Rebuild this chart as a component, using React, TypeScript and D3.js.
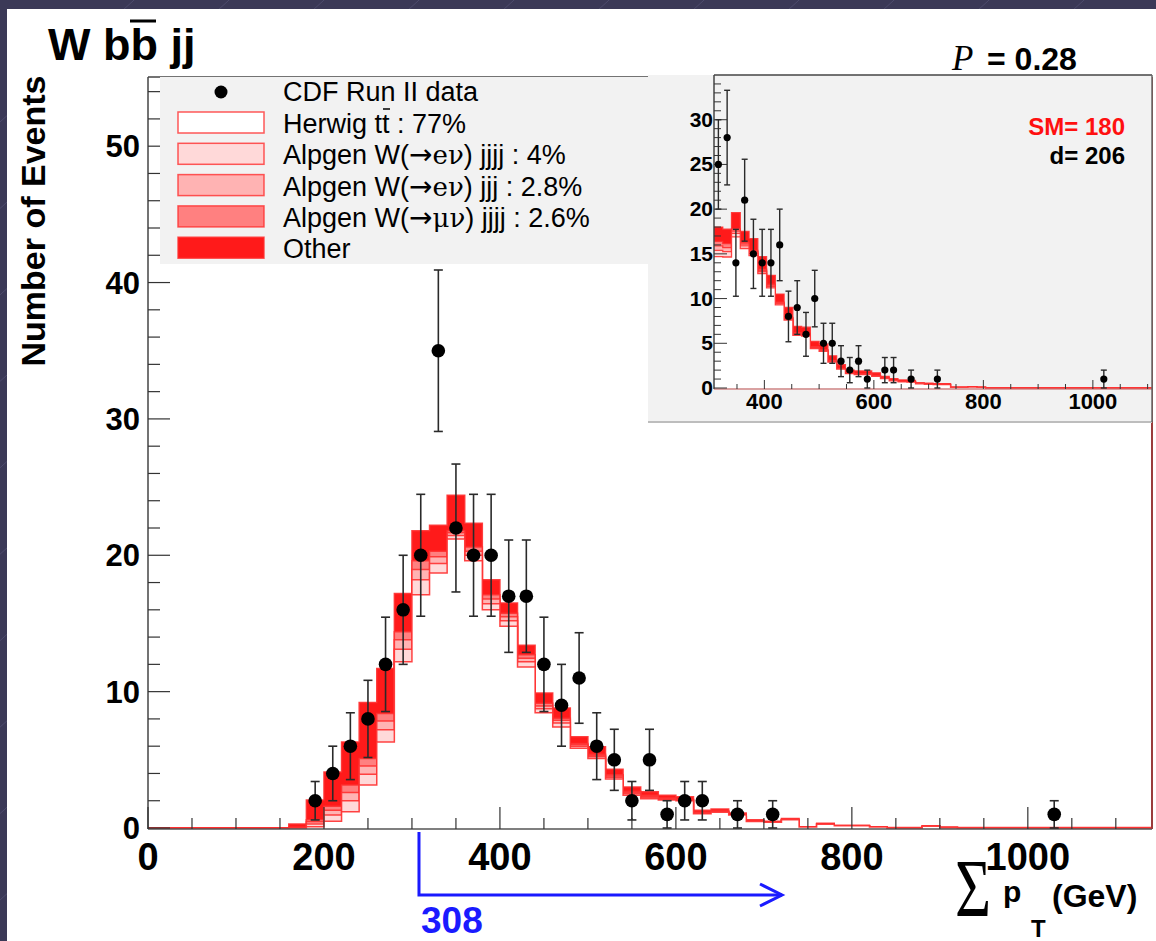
import React from "react";
import * as d3 from "d3";

// ---------------- main histogram: 20 GeV bins, 0..1140 ----------------
const MAIN_START = 0;
const MAIN_WIDTH = 20;
const mainTtbar = [0, 0, 0, 0, 0, 0, 0, 0, 0, 0.1, 0.5, 1.2, 3.15, 6.3, 12.2, 17.1, 18.7, 21.2, 19.6, 16.0, 14.8, 11.8, 8.45, 7.4, 5.85, 5.1, 3.6, 2.4, 2.15, 2.05, 2.0, 1.05, 1.15, 0.95, 0.48, 0.42, 0.6, 0.07, 0.28, 0.16, 0.16, 0.08, 0.02, 0.02, 0.12, 0.04, 0.02, 0.02, 0.02, 0.02, 0.02, 0.02, 0.02, 0.02, 0.02, 0.02, 0.02];
const mainWenu4 = [0, 0, 0, 0, 0, 0, 0, 0, 0.02, 0.2, 0.45, 0.8, 0.8, 0.9, 0.9, 1.1, 0.7, 0.25, 0.4, 0.45, 0.4, 0.4, 0.3, 0.3, 0.15, 0.12, 0.12, 0.12, 0.1, 0.06, 0.04, 0.04, 0.04, 0.02, 0.02, 0.01, 0.01, 0.01, 0.01, 0.01, 0.01, 0, 0, 0, 0.01, 0, 0, 0, 0, 0, 0, 0, 0, 0, 0, 0, 0];
const mainWenu3 = [0, 0, 0, 0, 0, 0, 0, 0, 0.02, 0.15, 0.35, 0.6, 0.6, 0.65, 0.7, 0.75, 0.5, 0.2, 0.3, 0.35, 0.3, 0.25, 0.2, 0.2, 0.1, 0.1, 0.1, 0.1, 0.08, 0.05, 0.03, 0.03, 0.03, 0.02, 0.01, 0.01, 0.01, 0, 0.01, 0, 0, 0, 0, 0, 0, 0, 0, 0, 0, 0, 0, 0, 0, 0, 0, 0, 0];
const mainWmunu4 = [0, 0, 0, 0, 0, 0, 0, 0, 0.01, 0.15, 0.3, 0.55, 0.55, 0.55, 0.6, 0.65, 0.4, 0.15, 0.3, 0.3, 0.25, 0.25, 0.2, 0.15, 0.1, 0.08, 0.08, 0.08, 0.07, 0.04, 0.03, 0.03, 0.03, 0.01, 0.01, 0.01, 0.01, 0, 0, 0, 0, 0, 0, 0, 0, 0, 0, 0, 0, 0, 0, 0, 0, 0, 0, 0, 0];
const mainOther = [0, 0, 0, 0, 0, 0, 0, 0, 0.25, 1.45, 2.5, 3.15, 4.1, 3.3, 2.8, 2.2, 1.9, 2.6, 1.75, 1.1, 0.75, 0.7, 0.75, 0.75, 0.5, 0.55, 0.4, 0.3, 0.25, 0.2, 0.2, 0.15, 0.15, 0.1, 0.08, 0.05, 0.07, 0.02, 0.05, 0.03, 0.03, 0.02, 0.01, 0.01, 0.02, 0.01, 0.01, 0.01, 0.01, 0.01, 0.01, 0.01, 0.01, 0.01, 0.01, 0.01, 0.01];

const mainDataX = [190, 210, 230, 250, 270, 290, 310, 330, 350, 370, 390, 410, 430, 450, 470, 490, 510, 530, 550, 570, 590, 610, 630, 670, 710, 1030];
const mainDataN = [2, 4, 6, 8, 12, 16, 20, 35, 22, 20, 20, 17, 17, 12, 9, 11, 6, 5, 2, 5, 1, 2, 2, 1, 1, 1];
const mainDataErr = [1.41, 2, 2.45, 2.83, 3.46, 4, 4.47, 5.92, 4.69, 4.47, 4.47, 4.12, 4.12, 3.46, 3, 3.32, 2.45, 2.24, 1.41, 2.24, 1, 1.41, 1.41, 1, 1, 1];

const mainXTicks = [0, 200, 400, 600, 800, 1000];
const mainYTicks = [0, 10, 20, 30, 40, 50];

// ---------------- inset: 16 GeV bins, 308..1108 ----------------
const IN_START = 308;
const IN_WIDTH = 16;
const inTtbar = [14.7, 14.65, 16.9, 15.6, 14.8, 12.8, 11.2, 9.3, 7.6, 5.9, 5.8, 4.4, 4.1, 2.9, 2.1, 1.6, 1.5, 1.5, 1.3, 1.05, 0.8, 0.7, 0.65, 0.47, 0.42, 0.37, 0.37, 0.07, 0.07, 0.11, 0.07, 0.04, 0.04, 0.04, 0.04, 0.04, 0.04, 0.04, 0.04, 0.04, 0.04, 0.04, 0.04, 0.04, 0.04, 0.04, 0.04, 0.04, 0.04, 0.04];
const inWenu4 = [0.7, 0.6, 0.4, 0.3, 0.25, 0.2, 0.15, 0.1, 0.1, 0.1, 0.1, 0.08, 0.08, 0.08, 0.04, 0.04, 0.04, 0.04, 0.04, 0.02, 0.02, 0.02, 0.02, 0.01, 0.01, 0.01, 0.01, 0.01, 0.01, 0.01, 0.01, 0, 0, 0, 0, 0, 0, 0, 0, 0, 0, 0, 0, 0, 0, 0, 0, 0, 0, 0];
const inWenu3 = [0.5, 0.45, 0.25, 0.2, 0.2, 0.15, 0.15, 0.1, 0.1, 0.1, 0.1, 0.06, 0.06, 0.06, 0.03, 0.03, 0.03, 0.03, 0.03, 0.02, 0.02, 0.02, 0.02, 0.01, 0.01, 0.01, 0.01, 0, 0, 0, 0, 0, 0, 0, 0, 0, 0, 0, 0, 0, 0, 0, 0, 0, 0, 0, 0, 0, 0, 0];
const inWmunu4 = [0.5, 0.45, 0.25, 0.2, 0.15, 0.15, 0.1, 0.1, 0.1, 0.1, 0.1, 0.06, 0.06, 0.06, 0.03, 0.03, 0.03, 0.03, 0.03, 0.01, 0.01, 0.01, 0.01, 0.01, 0.01, 0.01, 0.01, 0, 0, 0, 0, 0, 0, 0, 0, 0, 0, 0, 0, 0, 0, 0, 0, 0, 0, 0, 0, 0, 0, 0];
const inOther = [1.6, 1.6, 1.8, 1.2, 1.3, 1.4, 1.0, 0.9, 1.1, 0.7, 0.7, 0.6, 0.6, 0.5, 0.4, 0.3, 0.3, 0.3, 0.3, 0.2, 0.2, 0.15, 0.15, 0.1, 0.1, 0.1, 0.1, 0.02, 0.02, 0.03, 0.02, 0.01, 0.01, 0.01, 0.01, 0.01, 0.01, 0.01, 0.01, 0.01, 0.01, 0.01, 0.01, 0.01, 0.01, 0.01, 0.01, 0.01, 0.01, 0.01];

const inDataX = [316, 332, 348, 364, 380, 396, 412, 428, 444, 460, 476, 492, 508, 524, 540, 556, 572, 588, 620, 636, 668, 716, 1020];
const inDataN = [25, 28, 14, 21, 15, 14, 14, 16, 8, 9, 6, 10, 5, 5, 3, 2, 3, 1, 2, 2, 1, 1, 1];
const inDataErr = [5, 5.29, 3.74, 4.58, 3.87, 3.74, 3.74, 4, 2.83, 3, 2.45, 3.16, 2.24, 2.24, 1.73, 1.41, 1.73, 1, 1.41, 1.41, 1, 1, 1];

const inXTicks = [400, 600, 800, 1000];
const inYTicks = [0, 5, 10, 15, 20, 25, 30];

// legend: [before arrow, decay products, after]
const legendParts: [string, string, string][] = [
  ["Herwig tt : 77%", "", ""],
  ["Alpgen W(", "e\u03bd", ") jjjj : 4%"],
  ["Alpgen W(", "e\u03bd", ") jjj : 2.8%"],
  ["Alpgen W(", "\u03bc\u03bd", ") jjjj : 2.6%"],
  ["Other", "", ""],
];

const LAYER_FILLS = ["#ffffff", "#ffd9d9", "#ffb3b3", "#ff8080", "#ff1a1a"];
const OUTLINE = "#ff3030";
const FONT = "'Liberation Sans', Arial, Helvetica, sans-serif";

function cumulative(layers: number[][]): number[][] {
  const out: number[][] = [];
  let acc = layers[0].map(() => 0);
  for (const l of layers) {
    acc = acc.map((a, i) => a + l[i]);
    out.push(acc);
  }
  return out;
}

function stepPoints(start: number, width: number, vals: number[]): [number, number][] {
  const pts: [number, number][] = vals.map((v, i) => [start + i * width, v]);
  pts.push([start + vals.length * width, vals[vals.length - 1]]);
  return pts;
}

function Stack({ x, y, start, width, layers, sw }: any) {
  const cum = cumulative(layers);
  const area = d3
    .area<[number, number]>()
    .x((d) => x(d[0]))
    .y0(y(0))
    .y1((d) => y(d[1]))
    .curve(d3.curveStepAfter);
  const line = d3
    .line<[number, number]>()
    .x((d) => x(d[0]))
    .y((d) => y(d[1]))
    .curve(d3.curveStepAfter);
  const order = cum.map((_, k) => k).reverse();
  return (
    <g>
      {order.map((k) => {
        const pts = stepPoints(start, width, cum[k]);
        return (
          <g key={k}>
            <path d={area(pts) || ""} fill={LAYER_FILLS[k]} />
            <path d={line(pts) || ""} fill="none" stroke={OUTLINE} strokeWidth={sw} strokeOpacity={0.9} />
          </g>
        );
      })}
    </g>
  );
}

function DataPoints({ x, y, xs, ns, errs, r, cap, sw }: any) {
  return (
    <g>
      {xs.map((v: number, i: number) => {
        const cx = x(v);
        const lo = y(Math.max(0, ns[i] - errs[i]));
        const hi = y(ns[i] + errs[i]);
        return (
          <g key={i}>
            <line x1={cx} x2={cx} y1={lo} y2={hi} stroke="#2a2a2a" strokeWidth={sw} />
            <line x1={cx - cap} x2={cx + cap} y1={lo} y2={lo} stroke="#2a2a2a" strokeWidth={sw} />
            <line x1={cx - cap} x2={cx + cap} y1={hi} y2={hi} stroke="#2a2a2a" strokeWidth={sw} />
            <circle cx={cx} cy={y(ns[i])} r={r} fill="#000" />
          </g>
        );
      })}
    </g>
  );
}

export default function App() {
  // main plot scales
  const x = d3.scaleLinear().domain([0, 1140]).range([148, 1151]);
  const y = d3.scaleLinear().domain([0, 55]).range([828, 78]);
  // inset scales
  const xi = d3.scaleLinear().domain([308, 1108]).range([714, 1152]);
  const yi = d3.scaleLinear().domain([0, 35]).range([388, 75]);

  const xMinor = d3.range(0, 1141, 50).filter((v) => v % 200 !== 0);
  const yMinor = d3.range(0, 55.1, 2).filter((v) => v % 10 !== 0);
  const xiMinor = d3.range(350, 1108, 50).filter((v) => v % 200 !== 0);
  const yiMinor = d3.range(0, 35.1, 1).filter((v) => v % 5 !== 0);

  const mainLayers = [mainTtbar, mainWenu4, mainWenu3, mainWmunu4, mainOther];
  const inLayers = [inTtbar, inWenu4, inWenu3, inWmunu4, inOther];

  const bgLines = d3.range(-900, 1300, 95);

  return (
    <svg width={1156} height={941} style={{ position: "absolute", left: 0, top: 0, display: "block" }} fontFamily={FONT}>
      <defs>
        <clipPath id="mainClip">
          <rect x={148} y={77} width={1004} height={752} />
        </clipPath>
        <clipPath id="inClip">
          <rect x={714} y={75} width={438} height={314} />
        </clipPath>
      </defs>
      {/* slide background */}
      <rect x={0} y={0} width={1156} height={941} fill="#3b3957" />
      {bgLines.map((b, i) => (
        <line key={i} x1={b} y1={941} x2={b + 1100} y2={-60} stroke="#5d5b80" strokeWidth={1} strokeOpacity={0.55} />
      ))}
      <rect x={7} y={9} width={1149} height={932} fill="#ffffff" />

      {/* title */}
      <text x={48} y={60} fontSize={45} fontWeight="bold" fill="#000">
        W bb jj
      </text>
      <line x1={130} x2={156} y1={21} y2={21} stroke="#000" strokeWidth={3} />

      {/* P value */}
      <text x={952} y={70} fontSize={35} fontStyle="italic" fontFamily="'Liberation Serif', 'Times New Roman', serif" fill="#000">
        P
      </text>
      <text x={987} y={70} fontSize={32} fontWeight="bold" fill="#000">
        = 0.28
      </text>

      {/* y axis title */}
      <text transform="translate(45,221) rotate(-90)" textAnchor="middle" fontSize={34} fontWeight="bold" fill="#000">
        Number of Events
      </text>

      {/* main stack */}
      <g clipPath="url(#mainClip)">
        <Stack x={x} y={y} start={MAIN_START} width={MAIN_WIDTH} layers={mainLayers} sw={1.5} />
      </g>

      {/* main axes */}
      <line x1={148} x2={1152} y1={77} y2={77} stroke="#444" strokeWidth={1.5} />
      <line x1={148} x2={148} y1={77} y2={829} stroke="#444" strokeWidth={1.5} />
      <line x1={148} x2={1152} y1={829} y2={829} stroke="#555" strokeWidth={1.5} />
      <line x1={1152} x2={1152} y1={77} y2={829} stroke="#9a3c3c" strokeWidth={2} />
      {mainXTicks.map((t) => (
        <g key={t}>
          <line x1={x(t)} x2={x(t)} y1={829} y2={807} stroke="#333" strokeWidth={1.2} />
          <text x={x(t)} y={870} textAnchor="middle" fontSize={38} fontWeight="bold" fill="#000">
            {t}
          </text>
        </g>
      ))}
      {xMinor.map((t) => (
        <line key={t} x1={x(t)} x2={x(t)} y1={829} y2={818} stroke="#333" strokeWidth={1.2} />
      ))}
      {mainYTicks.map((t) => (
        <g key={t}>
          <line x1={148} x2={170} y1={y(t)} y2={y(t)} stroke="#333" strokeWidth={1.2} />
          <text x={140} y={y(t) + 11} textAnchor="end" fontSize={31} fontWeight="bold" fill="#000">
            {t}
          </text>
        </g>
      ))}
      {yMinor.map((t) => (
        <line key={t} x1={148} x2={160} y1={y(t)} y2={y(t)} stroke="#333" strokeWidth={1.2} />
      ))}

      {/* main data */}
      <DataPoints x={x} y={y} xs={mainDataX} ns={mainDataN} errs={mainDataErr} r={6.8} cap={4.5} sw={1.6} />

      {/* legend */}
      <rect x={160} y={77} width={500} height={187} fill="#f2f2f2" />
      <circle cx={221} cy={92} r={6.5} fill="#000" />
      <text x={283} y={101} fontSize={27} fill="#000">
        CDF Run II data
      </text>
      {legendParts.map((p, i) => (
        <g key={i}>
          <rect x={178} y={112 + i * 31.3} width={86} height={21} fill={LAYER_FILLS[i]} stroke={OUTLINE} strokeWidth={1.5} strokeOpacity={0.8} />
          <text x={283} y={133 + i * 31.3} fontSize={27} fill="#000">
            {p[1] === "" ? (
              p[0]
            ) : (
              <>
                {p[0]}
                <tspan fontFamily="'DejaVu Sans', sans-serif" fontSize={28}>{"\u2192"}</tspan>
                <tspan fontFamily="'DejaVu Serif', 'Liberation Serif', serif" fontSize={26}>{p[1]}</tspan>
                {p[2]}
              </>
            )}
          </text>
        </g>
      ))}
      <line x1={383} x2={390} y1={109} y2={109} stroke="#000" strokeWidth={1.5} />

      {/* inset pad */}
      <rect x={648} y={75} width={504} height={347} fill="#f2f2f2" />
      <line x1={648} x2={1152} y1={422} y2={422} stroke="#bdbdbd" strokeWidth={2} />
      <g clipPath="url(#inClip)">
        <Stack x={xi} y={yi} start={IN_START} width={IN_WIDTH} layers={inLayers} sw={1.3} />
      </g>
      <line x1={714} x2={1152} y1={75} y2={75} stroke="#444" strokeWidth={1.5} />
      <line x1={714} x2={714} y1={75} y2={389} stroke="#444" strokeWidth={1.5} />
      <line x1={714} x2={1152} y1={389} y2={389} stroke="#c05050" strokeWidth={1.2} />
      <line x1={1152} x2={1152} y1={75} y2={422} stroke="#666" strokeWidth={1.5} />
      {inYTicks.map((t) => (
        <g key={t}>
          <line x1={714} x2={727} y1={yi(t)} y2={yi(t)} stroke="#333" strokeWidth={1} />
          <text x={713} y={yi(t) + 7} textAnchor="end" fontSize={21} fontWeight="bold" fill="#000">
            {t}
          </text>
        </g>
      ))}
      {yiMinor.map((t) => (
        <line key={t} x1={714} x2={721} y1={yi(t)} y2={yi(t)} stroke="#333" strokeWidth={1} />
      ))}
      {inXTicks.map((t) => (
        <g key={t}>
          <line x1={xi(t)} x2={xi(t)} y1={389} y2={380} stroke="#333" strokeWidth={1} />
          <text x={xi(t)} y={409} textAnchor="middle" fontSize={22} fontWeight="bold" fill="#000">
            {t}
          </text>
        </g>
      ))}
      {xiMinor.map((t) => (
        <line key={t} x1={xi(t)} x2={xi(t)} y1={389} y2={384} stroke="#333" strokeWidth={1} />
      ))}
      <DataPoints x={xi} y={yi} xs={inDataX} ns={inDataN} errs={inDataErr} r={3.6} cap={3} sw={1.4} />
      <text x={1125} y={135} textAnchor="end" fontSize={24} fontWeight="bold" fill="#ff1010">
        SM= 180
      </text>
      <text x={1125} y={164} textAnchor="end" fontSize={24} fontWeight="bold" fill="#000">
        d= 206
      </text>

      {/* cut arrow */}
      <path d={`M${x(308)},832 L${x(308)},895 L782,895`} fill="none" stroke="#1a1aff" strokeWidth={3} />
      <path d="M760,884 L782,895 L760,906" fill="none" stroke="#1a1aff" strokeWidth={3} />
      <text x={421} y={933} fontSize={37} fontWeight="bold" fill="#1a1aff">
        308
      </text>

      {/* x axis title */}
      <text x={955} y={914} fontSize={62} fontFamily="'Liberation Serif', 'Times New Roman', serif" transform="translate(0,-290) scale(1,1.32)" fill="#000">
        {"\u03a3"}
      </text>
      <text x={1003} y={902} fontSize={30} fontWeight="bold" fill="#000">
        p
      </text>
      <text x={1031} y={937} fontSize={24} fontWeight="bold" fill="#000">
        T
      </text>
      <text x={1052} y={907} fontSize={32} fontWeight="bold" fill="#000">
        (GeV)
      </text>
    </svg>
  );
}
